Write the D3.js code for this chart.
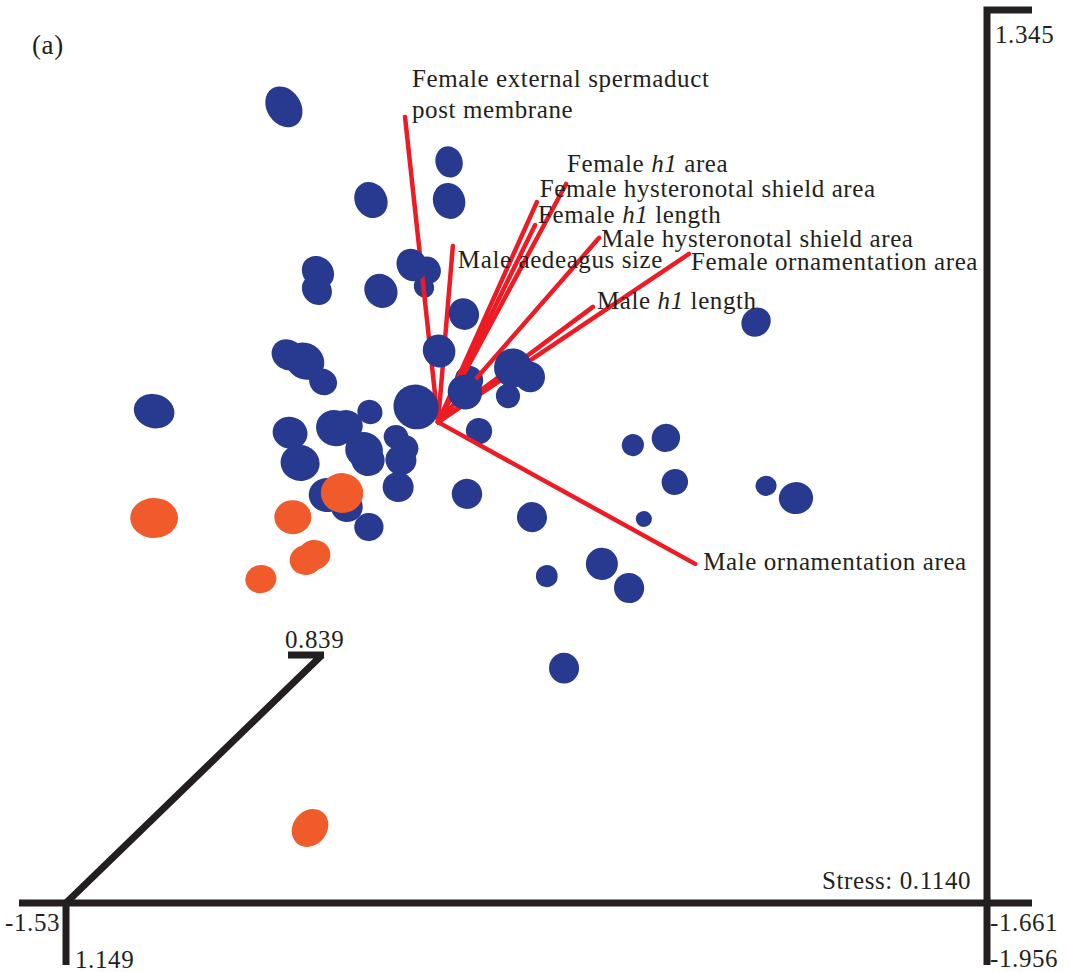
<!DOCTYPE html>
<html>
<head>
<meta charset="utf-8">
<script src="https://cdn.jsdelivr.net/npm/d3@7"></script>
<style>
  html, body { margin: 0; padding: 0; background: #fff; }
  svg { display: block; }
  text { font-family: "Liberation Serif", "Times New Roman", serif; fill: #231f20; letter-spacing: 0.6px; }
</style>
</head>
<body>
<svg id="chart" width="1070" height="972"></svg>
<script>
// NMDS ordination scores (axis 1, axis 2, axis 3) for each sample
const blueX = [-0.894,-0.414,-0.414,-0.641,-0.795,-0.798,-0.612,-0.522,-0.475,-0.487,
               -0.371,-0.882,-0.833,-0.780,-0.443,-0.510,-0.368,-0.356,-0.228,-0.179,
               -0.243,-0.327,-0.644,-0.876,-0.745,-0.711,-0.847,-0.661,-0.650,-0.568,
               -0.542,-0.554,-0.562,-0.769,-0.711,-0.647,-0.362,-0.173,-1.271, 0.478,
                0.120, 0.216, 0.242, 0.507, 0.594, 0.152, 0.030, 0.109,-0.130,-0.080];
const blueY = [ 1.013, 0.828, 0.697, 0.700, 0.458, 0.398, 0.395, 0.482, 0.465, 0.408,
                0.317, 0.180, 0.159, 0.089, 0.193, 0.005, 0.055, 0.096, 0.136, 0.106,
                0.042,-0.076,-0.012,-0.082,-0.066,-0.056,-0.183,-0.140,-0.173,-0.096,
               -0.133,-0.173,-0.264,-0.291,-0.331,-0.398,-0.287,-0.365,-0.009, 0.290,
               -0.123,-0.099,-0.247,-0.260,-0.301,-0.371,-0.522,-0.603,-0.563,-0.872];
const blueZ = [-0.419,-0.908,-0.558,-0.558,-0.698,-0.838,-0.558,-0.698,-1.048,-1.397,
               -0.698,-0.698,-0.279,-0.978,-0.558, 0.280,-0.419,-0.838,-0.139,-0.698,
               -1.118,-0.978,-1.118,-0.558,-0.279,-0.698,-0.279,-0.279,-0.558,-1.118,
               -0.978,-0.698,-0.698,-0.419,-0.698,-0.838,-0.698,-0.698,-0.419,-0.838,
               -1.257,-0.838,-0.978,-1.397,-0.558,-1.677,-0.558,-0.698,-1.257,-0.698];

const orangeX = [-0.725,-1.271,-0.868,-0.830,-0.806,-0.961,-0.818];
const orangeY = [-0.284,-0.368,-0.365,-0.509,-0.492,-0.573,-1.409];
const orangeZ = [ 0.001, 0.001,-0.419,-0.698,-0.698,-0.838,-0.419];

// Fitted trait vectors: common origin and arrow tips in ordination space
const vectorOrigin = [-0.446, -0.046];
const vectorNames = [
  "Female external spermaduct post membrane",
  "Male aedeagus size",
  "Female h1 area",
  "Female hysteronotal shield area",
  "Female h1 length",
  "Male hysteronotal shield area",
  "Female ornamentation area",
  "Male h1 length",
  "Male ornamentation area"
];
const vectorX = [-0.542,-0.403,-0.074,-0.159,-0.164, 0.022, 0.283, 0.004, 0.301];
const vectorY = [ 0.979, 0.546, 0.754, 0.693, 0.616, 0.573, 0.519, 0.341,-0.522];

// Axis extent labels of the 3-D box
const axisLabels = ["-1.53", "1.149", "-1.661", "-1.956", "1.345", "0.839"];
const stressLabel = "Stress: 0.1140";
const panelLabel = "(a)";

// ---------------------------------------------------------------
const svg = d3.select("#chart");
const BLUE = "#283a8f", ORANGE = "#f15a2b", RED = "#ed1c24", INK = "#231f20";

const x = d3.scaleLinear().domain([-1.53, 1.149]).range([65, 987]);
const y = d3.scaleLinear().domain([-1.661, 1.345]).range([903, 8]);
const r = d3.scaleLinear().domain([-1.956, 0.839]).range([6, 26]);

// perspective: spheres stretch radially away from the view centre
const viewCentre = [560, 520], focal = 620;

const points = [];
blueX.forEach((v, i) => points.push({x: v, y: blueY[i], z: blueZ[i], c: BLUE}));
orangeX.forEach((v, i) => points.push({x: v, y: orangeY[i], z: orangeZ[i], c: ORANGE}));
points.sort((a, b) => a.z - b.z);

const depthCut = -0.77;
const backLayer = svg.append("g");
const vecLayer = svg.append("g");
const frontLayer = svg.append("g");

function drawSpheres(layer, data) {
  layer.selectAll("ellipse").data(data).join("ellipse")
    .each(function(d) {
      const cx = x(d.x), cy = y(d.y), rad = r(d.z);
      const dx = cx - viewCentre[0], dy = cy - viewCentre[1];
      const dist = Math.hypot(dx, dy);
      const stretch = Math.sqrt(1 + (dist / focal) ** 2);
      const ang = Math.atan2(dy, dx) * 180 / Math.PI;
      d3.select(this)
        .attr("cx", 0).attr("cy", 0)
        .attr("rx", rad * stretch).attr("ry", rad)
        .attr("transform", `translate(${cx},${cy}) rotate(${ang})`)
        .attr("fill", d.c);
    });
}
drawSpheres(backLayer, points.filter(d => d.z < depthCut));
drawSpheres(frontLayer, points.filter(d => d.z >= depthCut));

// trait vectors
const ox = x(vectorOrigin[0]), oy = y(vectorOrigin[1]);
vecLayer.selectAll("line").data(vectorNames).join("line")
  .attr("x1", ox).attr("y1", oy)
  .attr("x2", (d, i) => x(vectorX[i])).attr("y2", (d, i) => y(vectorY[i]))
  .attr("stroke", RED).attr("stroke-width", 4.5).attr("stroke-linecap", "round");

// label placement relative to each arrow tip
const labelOffset = {
  "Female external spermaduct post membrane": [7, -30],
  "Male aedeagus size": [5, 22],
  "Female h1 area": [1, -12],
  "Female hysteronotal shield area": [3, -5],
  "Female h1 length": [3, -2],
  "Male hysteronotal shield area": [2, 9],
  "Female ornamentation area": [2, 16],
  "Male h1 length": [4, 2],
  "Male ornamentation area": [8, 6]
};
const FS = 25;
const labels = svg.append("g").attr("font-size", FS);
vectorNames.forEach((name, i) => {
  const [dx, dy] = labelOffset[name];
  const t = labels.append("text")
    .attr("x", x(vectorX[i]) + dx).attr("y", y(vectorY[i]) + dy);
  if (name.startsWith("Female external")) {
    t.append("tspan").text("Female external spermaduct");
    t.append("tspan").attr("x", x(vectorX[i]) + dx).attr("dy", 31).text("post membrane");
  } else {
    name.split(/(h1)/).forEach(part => {
      if (!part) return;
      const s = t.append("tspan").text(part);
      if (part === "h1") s.attr("font-style", "italic");
    });
  }
});

// 3-D box axes
const axes = svg.append("g").attr("stroke", INK).attr("stroke-width", 7).attr("fill", "none");
const x0 = x(-1.53), x1 = x(1.149), yb = y(-1.661), yt = y(1.345);
axes.append("line").attr("x1", 19).attr("x2", 1032).attr("y1", yb).attr("y2", yb);
axes.append("line").attr("x1", x0 + 1).attr("x2", x0 + 1).attr("y1", yb).attr("y2", 965);
axes.append("path").attr("d", `M${x1},965 L${x1},${yt + 2} M${x1 - 3.5},${yt + 2} L1032,${yt + 2}`);
axes.append("path").attr("d", `M${x0 + 1},${yb} L322,655 M288,655 L324,655`);

const tl = svg.append("g").attr("font-size", FS);
tl.append("text").attr("x", 5).attr("y", 931).text(axisLabels[0]);
tl.append("text").attr("x", 75).attr("y", 968).text(axisLabels[1]);
tl.append("text").attr("x", 990).attr("y", 931).text(axisLabels[2]);
tl.append("text").attr("x", 990).attr("y", 967).text(axisLabels[3]);
tl.append("text").attr("x", 995).attr("y", 43).text(axisLabels[4]);
tl.append("text").attr("x", 285).attr("y", 648).text(axisLabels[5]);
tl.append("text").attr("x", 822).attr("y", 889).text(stressLabel);
tl.append("text").attr("x", 32).attr("y", 54).attr("font-size", 27).text(panelLabel);
</script>
</body>
</html>
